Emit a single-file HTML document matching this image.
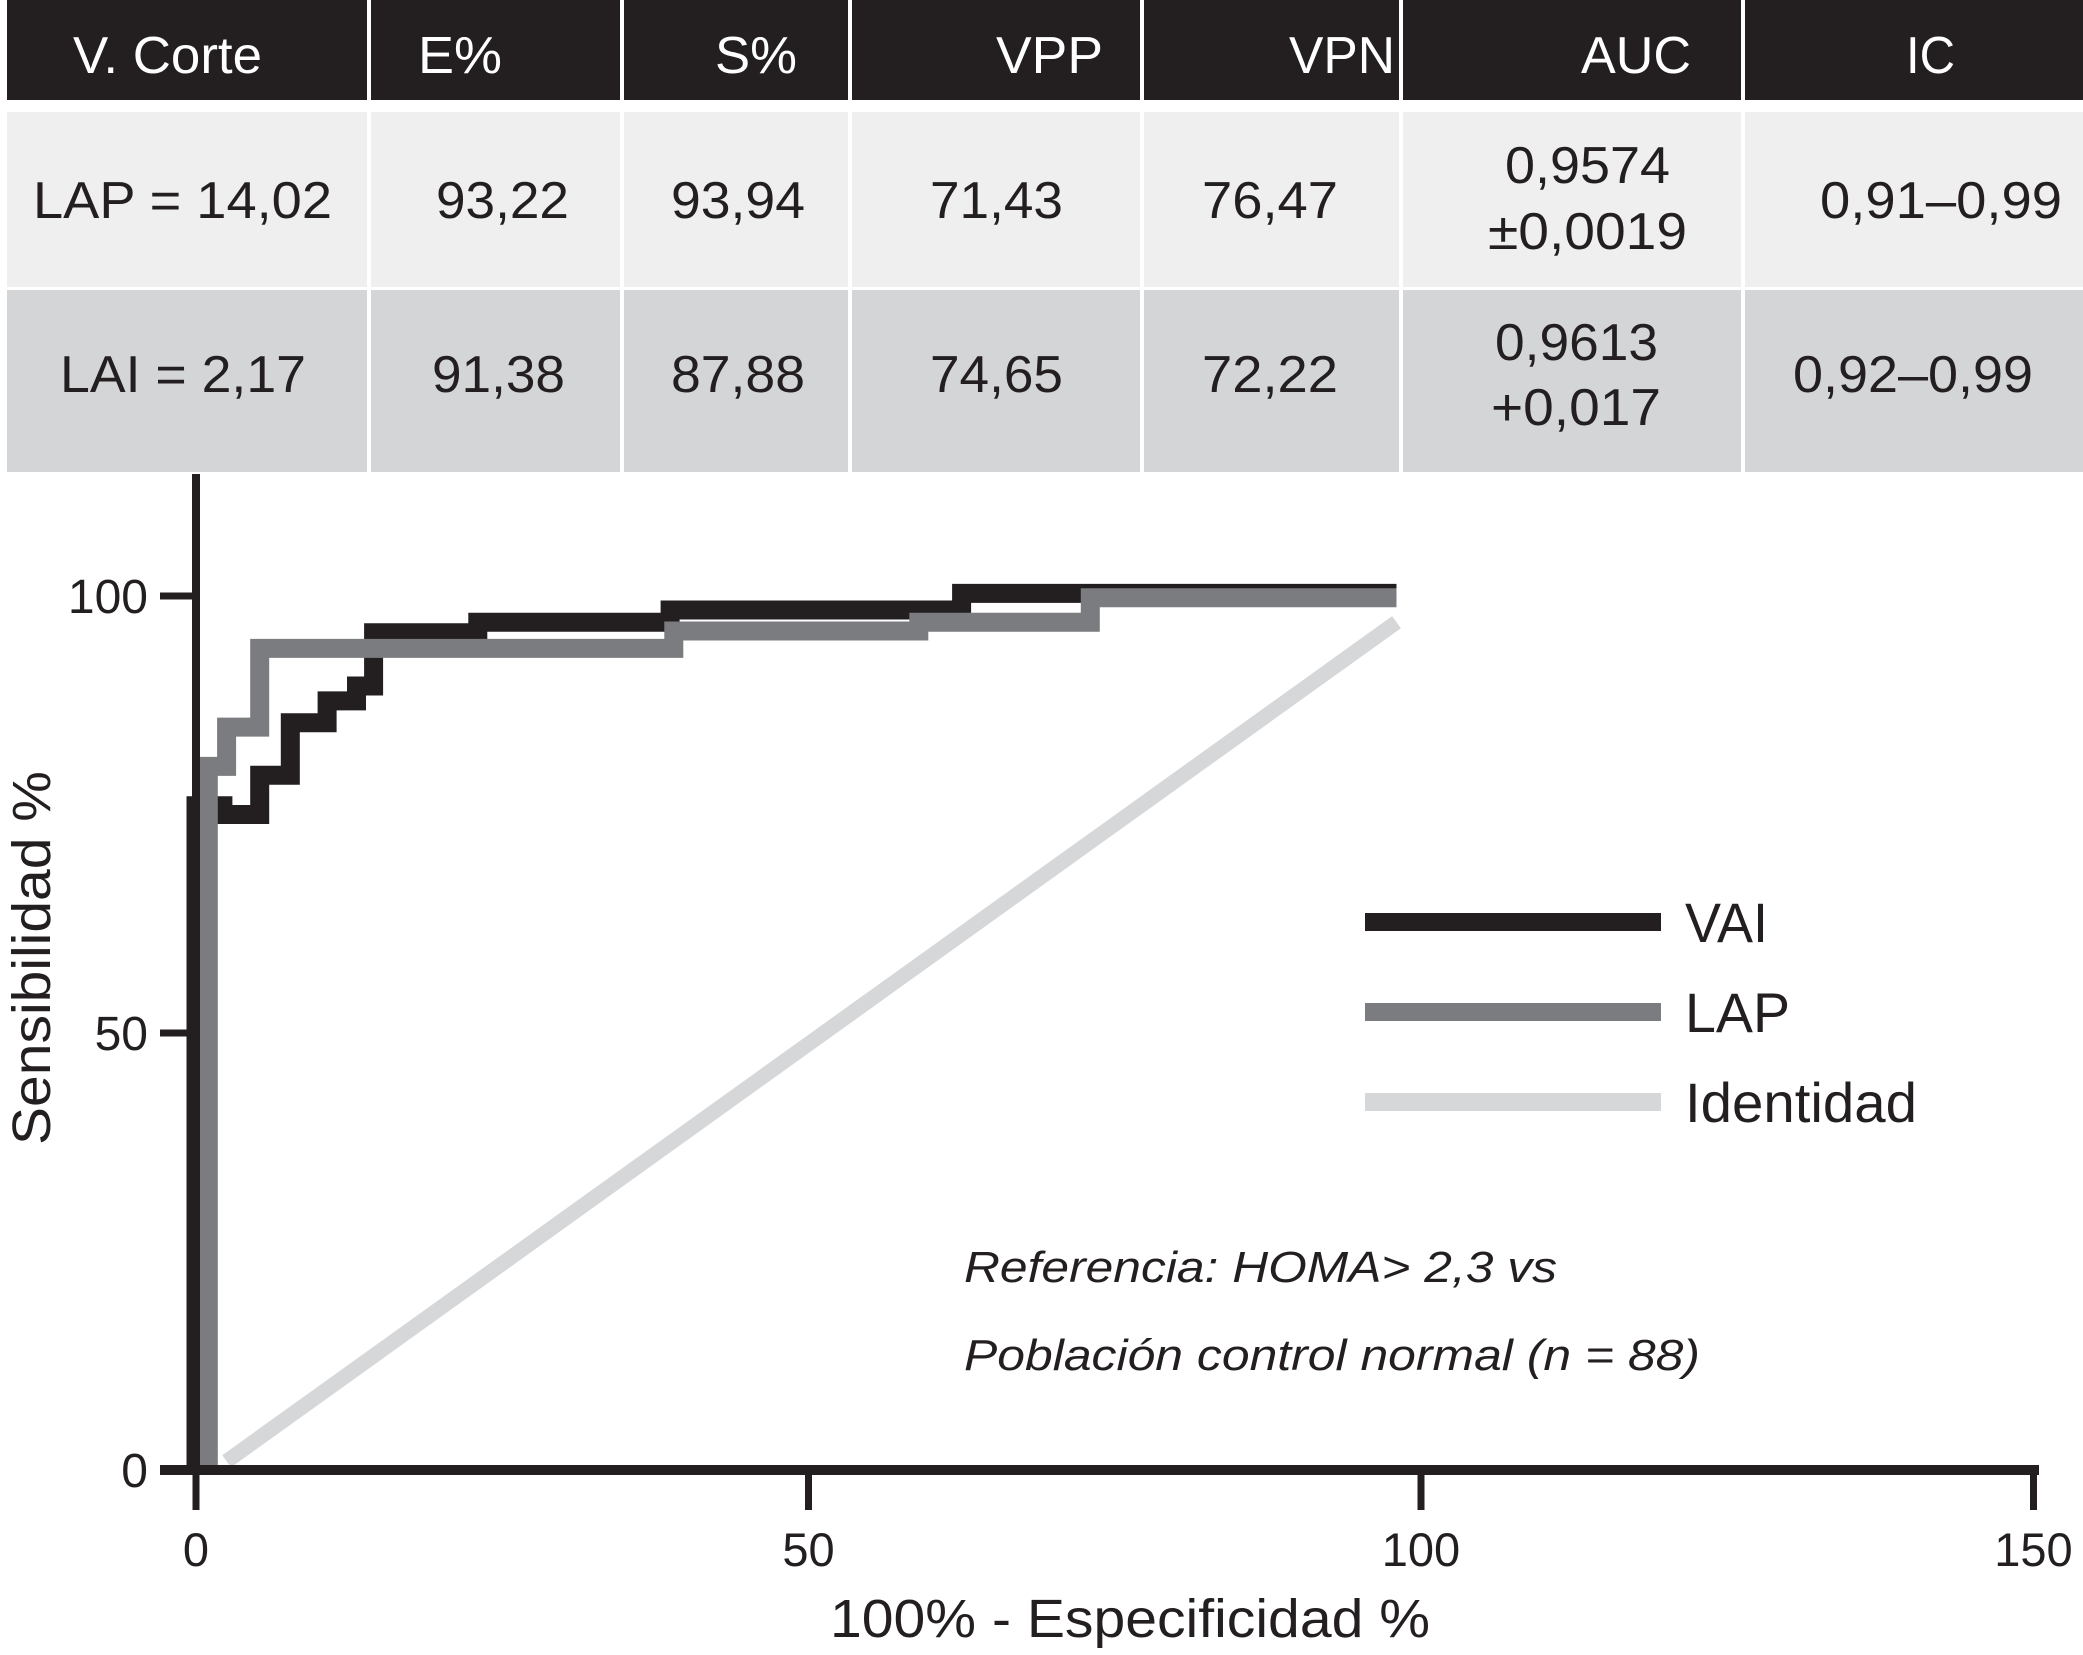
<!DOCTYPE html>
<html><head><meta charset="utf-8"><style>
html,body{margin:0;padding:0;background:#fff;}
svg{display:block;}
text{font-family:"Liberation Sans Narrow","Liberation Sans",sans-serif;}
</style></head><body>
<svg id="fig" width="2083" height="1655" viewBox="0 0 2083 1655" xmlns="http://www.w3.org/2000/svg">
<g id="table">
  <rect x="7" y="0" width="2076" height="100" fill="#231f20"/>
  <rect x="7" y="112" width="2076" height="175" fill="#efefef"/>
  <rect x="7" y="290" width="2076" height="182" fill="#d4d5d7"/>
  <g stroke="#fff" stroke-width="4">
    <line x1="369" y1="0" x2="369" y2="472"/><line x1="622" y1="0" x2="622" y2="472"/>
    <line x1="850" y1="0" x2="850" y2="472"/><line x1="1142" y1="0" x2="1142" y2="472"/>
    <line x1="1401" y1="0" x2="1401" y2="472"/><line x1="1743" y1="0" x2="1743" y2="472"/>
  </g>
  <g fill="#fff" font-size="52">
    <text x="73" y="73" textLength="189" lengthAdjust="spacingAndGlyphs">V. Corte</text>
    <text x="418" y="73" textLength="84" lengthAdjust="spacingAndGlyphs">E%</text>
    <text x="715" y="73" textLength="82" lengthAdjust="spacingAndGlyphs">S%</text>
    <text x="996" y="73" textLength="107" lengthAdjust="spacingAndGlyphs">VPP</text>
    <text x="1289" y="73" textLength="106" lengthAdjust="spacingAndGlyphs">VPN</text>
    <text x="1581" y="73" textLength="110" lengthAdjust="spacingAndGlyphs">AUC</text>
    <text x="1906" y="73" textLength="49" lengthAdjust="spacingAndGlyphs">IC</text>
  </g>
  <g fill="#231f20" font-size="52">
    <text x="33" y="218" textLength="299" lengthAdjust="spacingAndGlyphs">LAP = 14,02</text>
    <text x="436" y="218" textLength="133" lengthAdjust="spacingAndGlyphs">93,22</text>
    <text x="671" y="218" textLength="134" lengthAdjust="spacingAndGlyphs">93,94</text>
    <text x="930" y="218" textLength="133" lengthAdjust="spacingAndGlyphs">71,43</text>
    <text x="1202" y="218" textLength="136" lengthAdjust="spacingAndGlyphs">76,47</text>
    <text x="1505" y="183" textLength="165" lengthAdjust="spacingAndGlyphs">0,9574</text>
    <text x="1488" y="249" textLength="199" lengthAdjust="spacingAndGlyphs">±0,0019</text>
    <text x="1820" y="218" textLength="242" lengthAdjust="spacingAndGlyphs">0,91–0,99</text>
  </g>
  <g fill="#231f20" font-size="52">
    <text x="60" y="392" textLength="246" lengthAdjust="spacingAndGlyphs">LAI = 2,17</text>
    <text x="432" y="392" textLength="133" lengthAdjust="spacingAndGlyphs">91,38</text>
    <text x="671" y="392" textLength="134" lengthAdjust="spacingAndGlyphs">87,88</text>
    <text x="930" y="392" textLength="133" lengthAdjust="spacingAndGlyphs">74,65</text>
    <text x="1202" y="392" textLength="136" lengthAdjust="spacingAndGlyphs">72,22</text>
    <text x="1495" y="360" textLength="163" lengthAdjust="spacingAndGlyphs">0,9613</text>
    <text x="1491" y="425" textLength="170" lengthAdjust="spacingAndGlyphs">+0,017</text>
    <text x="1793" y="392" textLength="240" lengthAdjust="spacingAndGlyphs">0,92–0,99</text>
  </g>
</g>
<g id="plot"></g>
</svg>
<script>
const xTicks = [0, 50, 100, 150];
const yTicks = [0, 50, 100];
const vaiX = [0, 0, 2.2, 2.2, 5.2, 5.2, 7.7, 7.7, 10.7, 10.7, 13.1, 13.1, 14.5, 14.5, 23, 23, 38.7, 38.7, 62.5, 62.5, 98];
const vaiY = [0, 76, 76, 75, 75, 79.5, 79.5, 85.5, 85.5, 88, 88, 89.7, 89.7, 95.8, 95.8, 97, 97, 98.4, 98.4, 100.3, 100.3];
const lapX = [1, 1, 2.5, 2.5, 5.2, 5.2, 39, 39, 59, 59, 73, 73, 98];
const lapY = [0, 80.5, 80.5, 85, 85, 94, 94, 96, 96, 97, 97, 99.8, 99.8];
const idX = [2.5, 98];
const idY = [1, 97];
const legendLabels = ["VAI", "LAP", "Identidad"];
const legendColors = ["#231f20", "#7b7c7f", "#d6d7d9"];

const NS = "http://www.w3.org/2000/svg";
const X0 = 196, XS = 12.25, Y0 = 1470, YS = 8.74;
function sx(v){ return X0 + v * XS; }
function sy(v){ return Y0 - v * YS; }
const plot = document.getElementById('plot');
function mk(tag, attrs, parent){
  const e = document.createElementNS(NS, tag);
  for (const k in attrs) e.setAttribute(k, attrs[k]);
  (parent || plot).appendChild(e);
  return e;
}
function pts(xs, ys){ return xs.map((x,i)=>sx(x).toFixed(1)+','+sy(ys[i]).toFixed(1)).join(' '); }

const idLine = mk('polyline', {points: pts(idX, idY), fill:'none', stroke:'#d6d7d9', 'stroke-width':15});


const vaiLine = mk('polyline', {points: pts(vaiX, vaiY), fill:'none', stroke:'#231f20', 'stroke-width':19, 'stroke-linejoin':'miter'});


const lapLine = mk('polyline', {points: pts(lapX, lapY), fill:'none', stroke:'#7b7c7f', 'stroke-width':19, 'stroke-linejoin':'miter'});



const yAxis = mk('line', {x1:sx(0), y1:474, x2:sx(0), y2:Y0+4, stroke:'#231f20', 'stroke-width':8});


const xAxis = mk('line', {x1:160, y1:Y0, x2:2039, y2:Y0, stroke:'#231f20', 'stroke-width':10});



yTicks.forEach(v=>{
  const t = mk('line', {x1:160, y1:sy(v), x2:sx(0), y2:sy(v), stroke:'#231f20', 'stroke-width':7});
  
  
  const l = mk('text', {x:148, y:sy(v)+17, 'text-anchor':'end', 'font-size':48, fill:'#231f20', style:'font-family:"Liberation Sans",sans-serif'});
  l.textContent = v;
  
  
});
xTicks.forEach(v=>{
  const t = mk('line', {x1:sx(v), y1:Y0, x2:sx(v), y2:1510, stroke:'#231f20', 'stroke-width':7});
  
  
  const l = mk('text', {x:sx(v), y:1566, 'text-anchor':'middle', 'font-size':47, fill:'#231f20'});
  l.textContent = v;
  
  
});

const xt = mk('text', {x:830, y:1637, 'font-size':54, fill:'#231f20', textLength:600, lengthAdjust:'spacingAndGlyphs'});
xt.textContent = '100% - Especificidad %';


const yt = mk('text', {x:0, y:0, 'font-size':54, fill:'#231f20', 'text-anchor':'middle', textLength:374, lengthAdjust:'spacingAndGlyphs', transform:'translate(50,958) rotate(-90)'});
yt.textContent = 'Sensibilidad %';



const legendW = [83, 105, 232];
legendLabels.forEach((lab,i)=>{
  const y = 922 + i*90;
  const ln = mk('rect', {x:1365, y:y-9, width:296, height:18, fill:legendColors[i]});
  
  
  const tx = mk('text', {x:1685, y:y+20, 'font-size':56, fill:'#231f20', textLength:legendW[i], lengthAdjust:'spacingAndGlyphs'});
  tx.textContent = lab;
  
  
});

const a1 = mk('text', {x:964, y:1282, 'font-size':44, 'font-style':'italic', fill:'#231f20', textLength:593, lengthAdjust:'spacingAndGlyphs'});
a1.textContent = 'Referencia: HOMA> 2,3 vs';


const a2 = mk('text', {x:964, y:1370, 'font-size':44, 'font-style':'italic', fill:'#231f20', textLength:736, lengthAdjust:'spacingAndGlyphs'});
a2.textContent = 'Población control normal (n = 88)';


</script>
</body></html>
